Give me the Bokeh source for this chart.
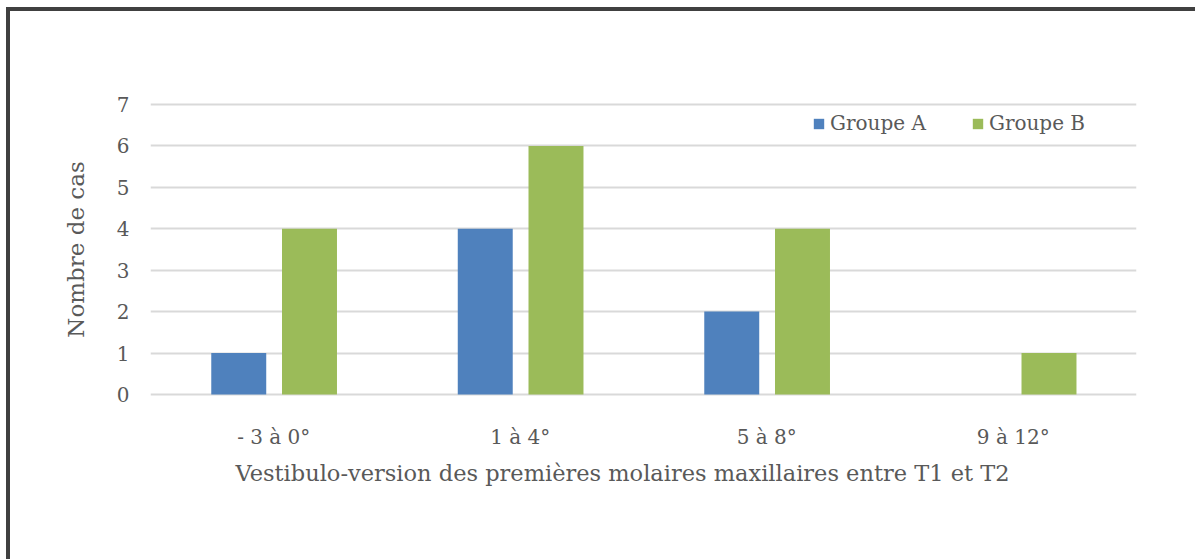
from bokeh.plotting import figure
from bokeh.models import ColumnDataSource, FactorRange, Range1d, Legend, LegendItem, FixedTicker, Title
from bokeh.transform import dodge
from bokeh.embed import file_html
from bokeh.resources import INLINE

categories = ["- 3 à 0°", "1 à 4°", "5 à 8°", "9 à 12°"]
groupe_a = [1, 4, 2, 0]
groupe_b = [4, 6, 4, 1]
series_names = ["Groupe A", "Groupe B"]
y_ticks = [0, 1, 2, 3, 4, 5, 6, 7]
x_title = "Vestibulo-version des premières molaires maxillaires entre T1 et T2"
y_title = "Nombre de cas"

FONT = "DejaVu Serif"
TXT = "#595959"

src = ColumnDataSource(dict(cat=categories, a=groupe_a, b=groupe_b))

p = figure(width=1189, height=552, x_range=FactorRange(*categories, range_padding=0),
           y_range=Range1d(-0.05, 7.05), output_backend="svg", toolbar_location=None,
           min_border_left=140, min_border_right=63, min_border_top=91, min_border_bottom=167)
p.styles = {"border-top": "4px solid #404040", "border-left": "4px solid #404040",
            "margin-left": "6px", "margin-top": "7px"}
p.outline_line_color = None
p.background_fill_color = "white"
p.border_fill_color = "white"

ra = p.vbar(x=dodge("cat", -0.142, range=p.x_range), top="a", width=0.223, source=src,
            fill_color="#4f81bd", line_color=None)
rb = p.vbar(x=dodge("cat", 0.145, range=p.x_range), top="b", width=0.223, source=src,
            fill_color="#9bbb59", line_color=None)

p.xgrid.grid_line_color = None
p.ygrid.grid_line_color = "#d9d9d9"
p.ygrid.grid_line_width = 2
p.ygrid.level = "underlay"
p.yaxis.ticker = FixedTicker(ticks=y_ticks)

for ax in (p.xaxis[0], p.yaxis[0]):
    ax.axis_line_color = None
    ax.major_tick_line_color = None
    ax.minor_tick_line_color = None
    ax.major_label_text_font = FONT
    ax.major_label_text_font_size = "20px"
    ax.major_label_text_color = TXT
    ax.axis_label_text_font = FONT
    ax.axis_label_text_font_size = "23px"
    ax.axis_label_text_color = TXT
    ax.axis_label_text_font_style = "normal"

p.yaxis.axis_label = y_title
p.yaxis.major_label_standoff = 15
p.yaxis.axis_label_standoff = 25
p.xaxis.major_label_standoff = 22

t = Title(text=x_title, align="left", offset=85, standoff=12,
          text_font=FONT, text_font_size="22.5px", text_color=TXT, text_font_style="normal")
p.add_layout(t, "below")

legend = Legend(items=[LegendItem(label=series_names[0], renderers=[ra]),
                       LegendItem(label=series_names[1], renderers=[rb])],
                orientation="horizontal", location=(662, 261))
legend.background_fill_alpha = 0
legend.border_line_color = None
legend.padding = 0
legend.margin = 0
legend.spacing = 45
legend.glyph_width = 13
legend.glyph_height = 13
legend.label_standoff = 5
legend.label_text_font = FONT
legend.label_text_font_size = "20px"
legend.label_text_color = TXT
p.add_layout(legend, "center")

open("out.html", "w").write(file_html(p, INLINE))
